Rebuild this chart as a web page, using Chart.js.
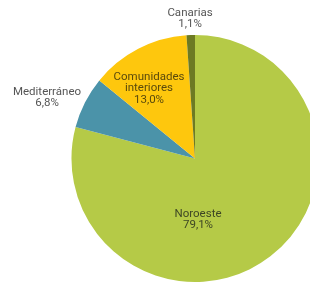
<!DOCTYPE html>
<html><head><meta charset="utf-8">
<script src="https://cdn.jsdelivr.net/npm/chart.js@4/dist/chart.umd.min.js"></script>
<style>html,body{margin:0;padding:0;background:#fff;overflow:hidden;width:310px;height:285px}#w{position:absolute;left:0;top:0;width:330px;height:285px}</style>
</head><body><div id="w"><canvas id="c" width="330" height="285"></canvas></div>
<script>
const categories = ["Noroeste", "Mediterráneo", "Comunidades interiores", "Canarias"];
const values = [79.1, 6.8, 13.0, 1.1];
const labelLines = [["Noroeste", "79,1%"], ["Mediterráneo", "6,8%"], ["Comunidades", "interiores", "13,0%"], ["Canarias", "1,1%"]];
const colors = ["#b5ca47", "#4b93a9", "#fec70d", "#6d7a23"];
const textColors = ["#3d4624", "#555555", "#5a4a0c", "#555555"];
const labelOffsets = [[3, 61], [-148, -61], [-46, -70], [-5, -140]];

const labelPlugin = {
  id: 'pieLabels',
  afterDatasetsDraw(chart) {
    const ctx = chart.ctx;
    const meta = chart.getDatasetMeta(0);
    ctx.save();
    ctx.font = '11.5px Roboto, "DejaVu Sans", sans-serif';
    ctx.textAlign = 'center';
    ctx.textBaseline = 'middle';
    const lh = 11.5;
    meta.data.forEach((arc, i) => {
      const cx = arc.x + labelOffsets[i][0];
      const cy = arc.y + labelOffsets[i][1];
      const lines = labelLines[i];
      ctx.fillStyle = textColors[i];
      lines.forEach((t, k) => {
        ctx.fillText(t, cx, cy + (k - (lines.length - 1) / 2) * lh);
      });
    });
    ctx.restore();
  }
};

new Chart(document.getElementById('c'), {
  type: 'pie',
  data: { labels: categories, datasets: [{ data: values, backgroundColor: colors, borderWidth: 0 }] },
  options: {
    responsive: false, animation: false,
    layout: { padding: { left: 71.5, right: 11.5, top: 35, bottom: 3 } },
    plugins: { legend: { display: false }, tooltip: { enabled: false } }
  },
  plugins: [labelPlugin]
});
</script></body></html>
